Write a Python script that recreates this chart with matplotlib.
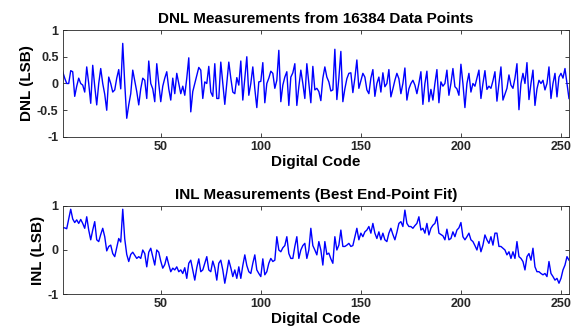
import matplotlib
matplotlib.use("Agg")
import matplotlib.pyplot as plt
import numpy as np

plt.rcParams["font.family"] = ["Liberation Sans", "DejaVu Sans"]
plt.rcParams["font.weight"] = "bold"

# DNL per code (codes 1..254)
dnl = [
    0.22, 0.10, 0.00, 0.00, 0.24, 0.22, -0.24, -0.05, 0.10, 0.00,
    -0.03, -0.16, 0.31, 0.00, -0.37, 0.34, -0.05, -0.40, 0.00, 0.28,
    0.00, -0.20, -0.50, 0.12, 0.00, -0.16, -0.12, 0.10, 0.26, -0.10,
    0.75, 0.00, -0.65, -0.40, -0.19, 0.25, 0.05, -0.15, -0.40, -0.10,
    0.10, 0.06, -0.28, 0.42, 0.00, -0.10, -0.34, 0.37, 0.00, -0.34,
    -0.05, 0.10, 0.22, -0.10, -0.31, 0.10, -0.19, 0.19, 0.00, -0.19,
    -0.05, -0.22, 0.10, 0.48, -0.53, -0.15, 0.00, 0.15, 0.30, 0.25,
    -0.28, 0.03, 0.00, 0.32, -0.16, -0.24, 0.37, -0.28, -0.28, 0.40,
    0.00, -0.39, 0.00, 0.40, 0.10, -0.16, -0.19, 0.11, -0.03, 0.42,
    -0.31, 0.10, 0.50, -0.22, 0.00, 0.31, -0.10, -0.45, 0.03, 0.04,
    0.39, -0.36, 0.00, 0.10, 0.23, 0.19, -0.09, 0.06, 0.62, -0.34,
    -0.03, 0.12, 0.22, -0.41, 0.12, 0.20, 0.37, -0.41, -0.06, 0.25,
    0.00, -0.28, 0.37, 0.00, -0.36, 0.32, -0.12, -0.09, -0.15, -0.32,
    0.10, 0.31, 0.12, 0.03, -0.14, -0.12, 0.64, -0.30, 0.10, 0.60,
    -0.34, -0.10, 0.09, 0.19, 0.20, -0.17, 0.10, 0.44, -0.09, 0.05,
    0.19, 0.12, -0.12, -0.19, 0.10, 0.26, -0.24, 0.00, 0.12, -0.16,
    0.20, -0.06, 0.00, 0.26, -0.25, -0.10, 0.06, 0.19, 0.09, -0.19,
    0.00, 0.29, -0.31, -0.10, 0.00, 0.06, -0.03, -0.19, 0.00, 0.22,
    -0.39, 0.00, 0.23, -0.34, -0.11, -0.31, 0.00, 0.26, -0.36, 0.03,
    -0.05, 0.00, 0.25, -0.22, 0.00, 0.28, -0.06, -0.10, -0.22, 0.36,
    0.00, -0.45, 0.00, 0.19, -0.16, 0.00, -0.05, 0.10, 0.25, -0.28,
    0.00, 0.24, -0.11, -0.05, -0.09, 0.05, 0.22, -0.33, 0.00, 0.31,
    -0.31, -0.20, -0.09, 0.16, -0.03, -0.09, 0.10, 0.37, -0.49, 0.00,
    0.19, 0.00, 0.39, -0.30, 0.00, 0.25, -0.41, -0.10, 0.06, 0.00,
    0.06, -0.12, 0.00, 0.31, -0.28, 0.00, 0.19, -0.25, 0.12, 0.19,
    0.10, 0.28, 0.00, -0.28,
]

# INL per code (codes 1..254)
inl = [
    0.50, 0.50, 0.48, 0.70, 0.92, 0.70, 0.62, 0.68, 0.60, 0.69,
    0.60, 0.49, 0.75, 0.45, 0.23, 0.45, 0.64, 0.23, 0.19, 0.35,
    0.49, 0.30, -0.02, 0.08, 0.11, -0.08, -0.15, 0.05, 0.26, 0.18,
    0.92, 0.25, -0.10, -0.26, -0.10, -0.05, -0.12, -0.19, -0.15, -0.19,
    0.00, -0.08, -0.38, -0.05, 0.04, -0.15, -0.34, 0.00, -0.05, -0.25,
    -0.41, -0.33, -0.15, -0.33, -0.49, -0.41, -0.45, -0.38, -0.49, -0.45,
    -0.53, -0.40, -0.64, -0.30, -0.23, -0.45, -0.68, -0.40, -0.20, -0.49,
    -0.45, -0.30, -0.15, -0.45, -0.49, -0.25, -0.40, -0.68, -0.30, -0.23,
    -0.45, -0.75, -0.50, -0.23, -0.40, -0.60, -0.45, -0.64, -0.38, -0.64,
    -0.35, -0.11, -0.35, -0.49, -0.53, -0.30, -0.11, -0.45, -0.53, -0.60,
    -0.20, -0.56, -0.49, -0.30, -0.19, -0.26, -0.23, 0.30, 0.00, -0.04,
    0.05, 0.10, 0.30, -0.08, -0.19, -0.19, 0.08, 0.30, -0.19, 0.00,
    0.10, 0.15, -0.19, 0.00, 0.49, 0.10, 0.00, -0.11, 0.19, 0.00,
    -0.34, 0.19, -0.10, -0.07, -0.20, -0.30, 0.30, 0.00, 0.11, 0.45,
    0.08, 0.08, 0.11, 0.15, 0.08, 0.10, 0.30, 0.49, 0.23, 0.38,
    0.30, 0.41, 0.45, 0.53, 0.38, 0.60, 0.38, 0.26, 0.41, 0.23,
    0.38, 0.23, 0.19, 0.38, 0.49, 0.35, 0.23, 0.40, 0.60, 0.64,
    0.53, 0.90, 0.60, 0.53, 0.53, 0.49, 0.55, 0.60, 0.75, 0.45,
    0.49, 0.38, 0.60, 0.34, 0.49, 0.56, 0.60, 0.75, 0.38, 0.35,
    0.32, 0.23, 0.47, 0.23, 0.26, 0.41, 0.30, 0.45, 0.50, 0.62,
    0.30, 0.23, 0.30, 0.38, 0.23, 0.19, 0.10, 0.00, 0.19, -0.04,
    0.11, 0.34, 0.23, 0.15, 0.30, 0.11, 0.38, 0.38, 0.08, 0.08,
    0.04, 0.00, -0.11, -0.04, -0.19, -0.04, -0.19, 0.19, -0.15, -0.19,
    -0.26, -0.45, -0.15, -0.08, -0.23, 0.04, -0.38, -0.49, -0.49, -0.53,
    -0.56, -0.53, -0.60, -0.26, -0.53, -0.60, -0.68, -0.64, -0.75, -0.64,
    -0.45, -0.34, -0.15, -0.23,
]

xticks = [50, 100, 150, 200, 250]

fig = plt.figure(figsize=(5.79, 3.33), dpi=100)
ax1 = fig.add_axes([0.1083, 0.5886, 0.8744, 0.3213])
ax2 = fig.add_axes([0.1083, 0.1162, 0.8744, 0.2661])

panels = [
    (ax1, dnl, "DNL (LSB)", "DNL Measurements from 16384 Data Points",
     [-1, -0.5, 0, 0.5, 1], ["-1", "-0.5", "0", "0.5", "1"]),
    (ax2, inl, "INL (LSB)", "INL Measurements (Best End-Point Fit)",
     [-1, 0, 1], ["-1", "0", "1"]),
]

for ax, data, ylab, title, yt, ytl in panels:
    codes = np.arange(1, len(data) + 1)
    ax.plot(codes, data, color="#0000ff", linewidth=1.0)
    ax.set_xlim(1, 254)
    ax.set_ylim(-1, 1)
    ax.set_xticks(xticks)
    ax.set_yticks(yt)
    ax.set_yticklabels(ytl)
    ax.tick_params(direction="in", length=3, width=0.6, top=True, right=True,
                   labelsize=9, colors="#262626", pad=3)
    for lbl in ax.get_xticklabels() + ax.get_yticklabels():
        lbl.set_fontweight("bold")
    for sp in ax.spines.values():
        sp.set_color("#262626")
        sp.set_linewidth(0.6)
    ax.set_xlabel("Digital Code", fontsize=11, fontweight="bold", labelpad=1)
    ax.set_ylabel(ylab, fontsize=11, fontweight="bold", labelpad=2)
    ax.set_title(title, fontsize=11, fontweight="bold", pad=5)

fig.savefig("out.png", dpi=100)
